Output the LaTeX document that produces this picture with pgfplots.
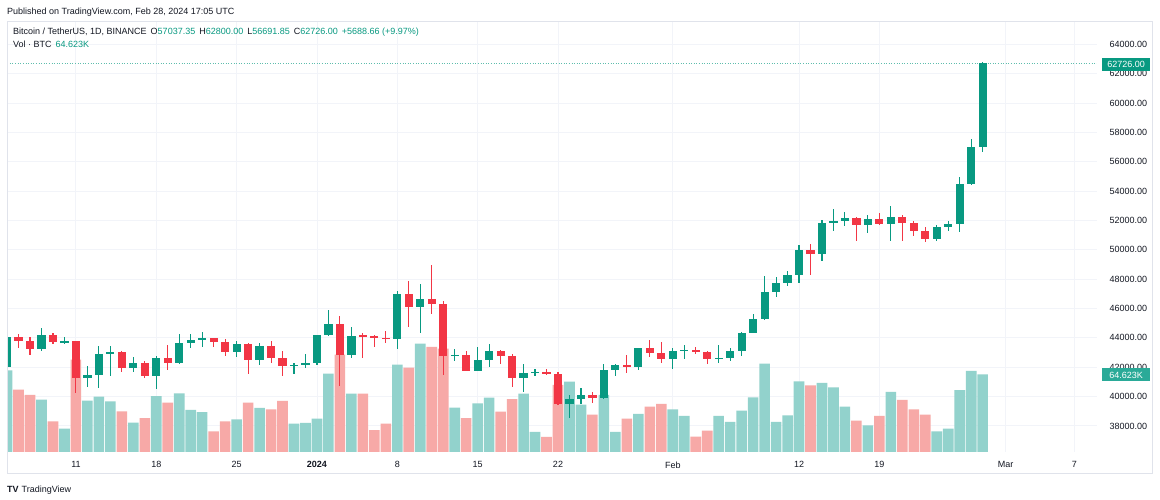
\documentclass[border=0pt]{standalone}
\usepackage{fontspec}
\setmainfont{Liberation Sans}
\usepackage{pgfplots}
\usepackage{pgfplotstable}
\pgfplotsset{compat=1.18}
\definecolor{up}{HTML}{089981}
\definecolor{dn}{HTML}{F23645}
\definecolor{vup}{HTML}{92D2CC}
\definecolor{vdn}{HTML}{F7A9A7}
\definecolor{txt}{HTML}{131722}
\definecolor{gridc}{HTML}{F2F4F9}
\definecolor{framec}{HTML}{E0E3EB}
\definecolor{volbox}{HTML}{2AAA98}
\newcommand\fs{\fontsize{9}{11}\selectfont}

% d = days since 11 Dec 2023; o h l c in USDT; v = volume in thousand BTC
\pgfplotstableread{
d o h l c v
-6 41991 44488 41414 44073 68.0
-3 43273 44700 43081 44170 43.6
-1 43713 44038 43563 43789 19.4
1 41253 42105 40680 41492 42.7
2 41492 43475 40555 42870 46.1
3 42870 43420 41400 43022 42.2
5 41941 42700 41700 42278 24.4
7 41374 42767 40542 42657 46.6
9 42271 44283 42206 43668 48.8
10 43668 44242 43286 43861 35.0
11 43861 44398 43412 43997 33.3
14 43016 43809 42720 43613 27.2
16 42520 43683 42167 43442 36.7
19 42099 42261 41522 42156 23.6
20 42156 42899 41965 42283 24.2
21 42283 44184 42181 44179 27.7
22 44179 45879 44149 44947 65.2
24 42846 44730 42630 44151 48.6
28 43943 47218 43244 46970 72.7
30 46139 47647 44300 46632 90.2
33 42782 43257 42437 42847 36.9
35 41732 43400 41719 42511 40.5
36 42511 43578 42048 43137 45.2
39 41262 42196 40280 41618 48.6
40 41618 41875 41408 41665 16.7
43 39507 40129 38555 39845 58.6
44 39845 40555 39484 40077 39.4
46 39934 42210 39825 41816 47.5
47 41816 42193 41394 42120 16.7
49 42031 43305 41804 43302 31.7
52 42580 43285 41884 43082 35.5
53 43082 43488 42574 43200 30.0
56 42583 43494 42258 42658 30.0
57 42658 43345 42445 43084 25.0
58 43084 44368 42789 44318 34.4
59 44318 45614 44300 45301 45.5
60 45301 48200 45242 47147 73.6
61 47147 48170 46800 47771 25.0
62 47771 48535 47557 48293 30.5
63 48293 50334 47710 49958 58.8
65 49743 52043 49225 51826 57.5
66 51826 52816 51314 51939 53.8
67 51939 52575 51600 52160 37.7
69 51663 52400 51150 52123 22.2
71 51780 52985 50625 52259 50.0
75 50731 51677 50586 51571 17.2
76 51571 51950 51279 51733 19.4
77 51733 54938 51250 54476 51.6
78 54476 57588 54450 57037 67.5
79 57037 62800 56691 62726 64.6
}\upT

\pgfplotstableread{
d o h l c v
-5 44073 44297 43335 43762 51.9
-4 43762 44047 42821 43273 47.5
-2 44170 44366 43584 43713 25.5
0 43789 43805 40222 41253 76.9
4 43022 43080 41666 41941 33.8
6 42278 42424 41250 41374 28.3
8 42657 43497 41811 42271 41.1
12 43997 44015 43351 43739 17.2
13 43739 43946 42749 43016 25.5
15 43613 43655 41521 42520 41.1
17 43442 43804 42318 42627 35.5
18 42627 43124 41424 42099 42.5
23 44947 45500 40750 42846 81.0
25 44151 44350 42627 44145 48.6
26 44145 44214 43397 43989 18.3
27 43989 44495 43662 43943 23.6
29 46970 47893 44750 46139 70.2
31 46632 48969 45606 46314 87.5
32 46314 46515 41500 42782 86.0
34 42847 43079 41720 41732 28.3
37 43137 43198 42200 42776 33.6
38 42776 42930 40683 41262 44.1
41 41665 41877 41446 41545 12.5
42 41545 41689 39431 39507 55.8
45 40077 40300 39550 39934 31.1
48 42120 42843 41620 42031 27.7
50 43302 43882 42683 42941 37.7
51 42941 43745 42276 42580 40.0
54 43200 43380 42880 43011 12.7
55 43011 43119 42222 42583 17.7
64 49958 50368 48300 49743 55.5
68 52160 52250 50625 51663 26.1
70 52123 52500 51715 51780 30.0
72 52259 52366 50625 51848 43.3
73 51848 52000 50936 51304 35.5
74 51304 51548 50521 50731 31.1
}\dnT

\pgfplotsset{
  base/.style={at={(7.3pt,48pt)}, anchor=south west, scale only axis,
    width=1089.7pt, height=431pt, xmin=-5.98, xmax=88.96},
  wick/.style={draw=none, mark=none, forget plot,
    error bars/.cd, y dir=both, y explicit, error mark=none,
    error bar style={draw=#1, solid, line width=1.1pt}},
  body/.style={draw=none, mark=none, forget plot,
    error bars/.cd, y dir=both, y explicit, error mark=none,
    error bar style={draw=#1, solid, line width=8.2pt}},
}

\begin{document}
\begin{tikzpicture}
\useasboundingbox (0,0) rectangle (1160pt,500pt);
\fill[white] (0,0) rectangle (1160pt,500pt);
% grid + tick labels
\begin{axis}[base, ymin=36222, ymax=65602,
  axis line style={draw=none}, major tick length=0pt,
  xmajorgrids, ymajorgrids, grid style={gridc, line width=0.9pt},
  xtick={0,7,14,21,28,35,42,52,63,70,81,87},
  xticklabels={11,18,25,\textbf{2024},8,15,22,Feb,12,19,Mar,7},
  xticklabel style={font=\fs, text=txt, yshift=-6pt},
  ytick={38000,40000,...,64000},
  scaled y ticks=false,
  yticklabel pos=right,
  yticklabel={\pgfmathprintnumber[fixed,fixed zerofill,precision=2,1000 sep={},assume math mode=true]{\tick}},
  yticklabel style={font=\fs, text=txt, anchor=west, xshift=9pt},
]
\end{axis}
% volume
\begin{axis}[base, ymin=0, ymax=358.9, hide axis]
\addplot[ybar, bar width=10.6pt, bar shift=0pt, fill=vup, draw=none] table[x=d, y=v] {\upT};
\addplot[ybar, bar width=10.6pt, bar shift=0pt, fill=vdn, draw=none] table[x=d, y=v] {\dnT};
\end{axis}
% candles
\begin{axis}[base, ymin=36222, ymax=65602, hide axis]
\addplot[up!65, line width=0.7pt, dash pattern=on 1pt off 1.6pt] coordinates {(-5.98,62726) (88.96,62726)};
\addplot[wick=up] table[x=d, y expr={(\thisrow{h}+\thisrow{l})/2}, y error expr={(\thisrow{h}-\thisrow{l})/2}] {\upT};
\addplot[wick=dn] table[x=d, y expr={(\thisrow{h}+\thisrow{l})/2}, y error expr={(\thisrow{h}-\thisrow{l})/2}] {\dnT};
\addplot[body=up] table[x=d, y expr={(\thisrow{o}+\thisrow{c})/2}, y error expr={max(abs(\thisrow{c}-\thisrow{o})/2,35)}] {\upT};
\addplot[body=dn] table[x=d, y expr={(\thisrow{o}+\thisrow{c})/2}, y error expr={max(abs(\thisrow{c}-\thisrow{o})/2,35)}] {\dnT};
\end{axis}
% frame
\draw[framec, line width=0.8pt] (7.3pt,27pt) rectangle (1152.5pt,479pt);
% header
\node[anchor=west, font=\fs, text=txt, inner sep=0pt] at (7pt,488pt) {Published on TradingView.com, Feb 28, 2024 17:05 UTC};
\node[anchor=west, font=\fs, text=txt, inner sep=0pt] at (13pt,468pt)
 {Bitcoin / TetherUS, 1D, BINANCE\hspace{4pt}O\textcolor{up}{57037.35}\hspace{4pt}H\textcolor{up}{62800.00}\hspace{4pt}L\textcolor{up}{56691.85}\hspace{4pt}C\textcolor{up}{62726.00}\hspace{4pt}\textcolor{up}{+5688.66 (+9.97\%)}};
\node[anchor=west, font=\fs, text=txt, inner sep=0pt] at (13pt,456pt) {Vol · BTC\hspace{4pt}\textcolor{up}{64.623K}};
% last value labels
\node[fill=up, text=white, font=\fs, anchor=west, minimum width=48pt, minimum height=13pt, inner sep=1pt] at (1102pt,435.5pt) {62726.00};
\node[fill=volbox, text=white, font=\fs, anchor=west, minimum width=48pt, minimum height=13pt, inner sep=1pt] at (1102pt,125pt) {64.623K};
% logo
\node[anchor=west, font=\fs, text=txt, inner sep=0pt] at (7pt,10pt) {\textbf{TV}\hspace{3pt}TradingView};
\end{tikzpicture}
\end{document}
